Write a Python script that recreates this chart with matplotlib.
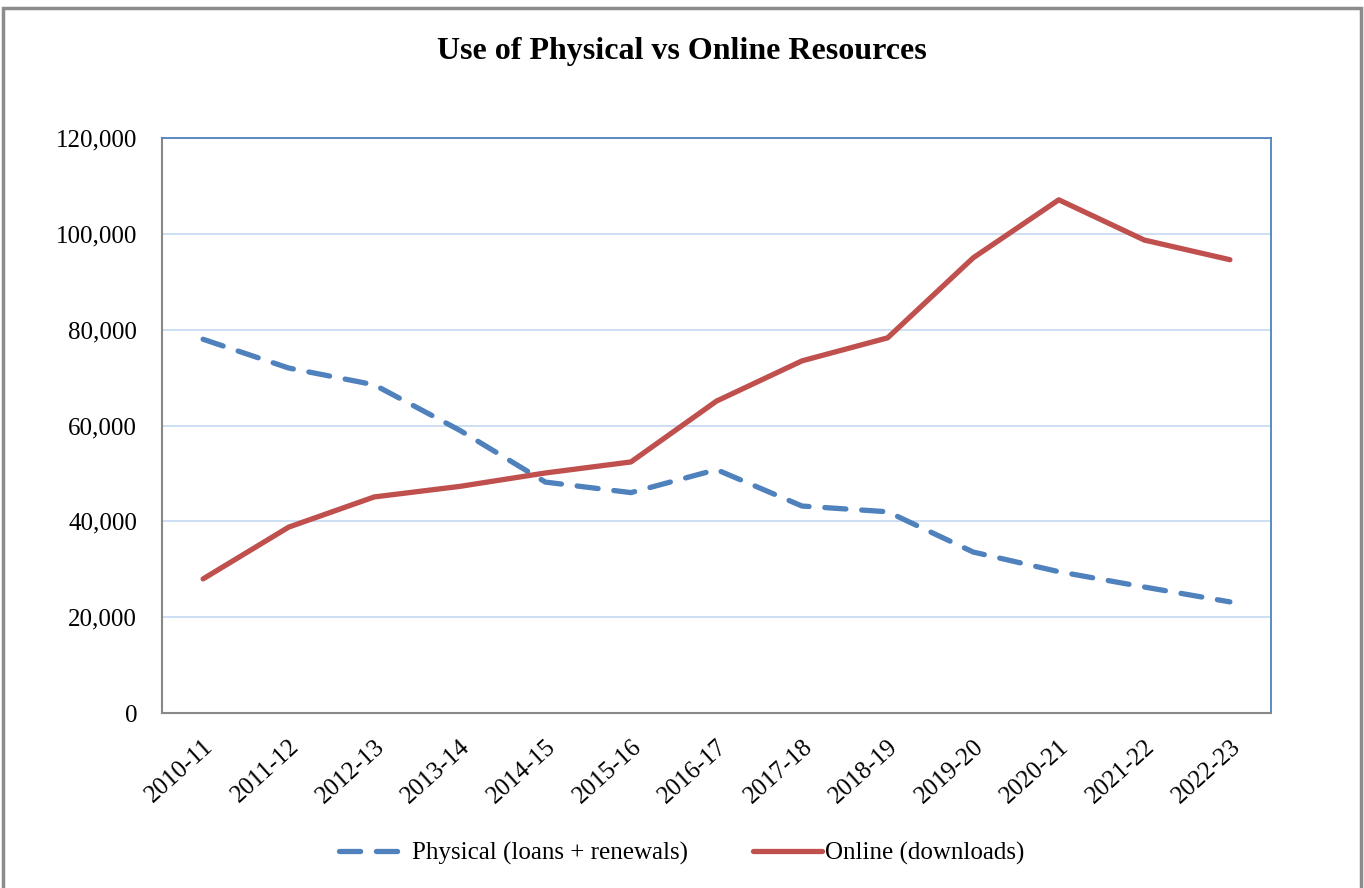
import matplotlib.pyplot as plt
from matplotlib.patches import Rectangle
from matplotlib.ticker import FuncFormatter

years = ["2010-11", "2011-12", "2012-13", "2013-14", "2014-15", "2015-16", "2016-17",
         "2017-18", "2018-19", "2019-20", "2020-21", "2021-22", "2022-23"]
physical = [78000, 72000, 68500, 59000, 48200, 46000, 50800,
            43200, 42000, 33600, 29500, 26300, 23200]
online = [28000, 38800, 45100, 47300, 50100, 52400, 65100,
          73500, 78300, 95000, 107100, 98700, 94600]

blue = "#4F81BD"
red = "#C0504D"
grid_col = "#C6D9F1"

plt.rcParams["font.family"] = ["Liberation Serif", "DejaVu Serif"]

fig = plt.figure(figsize=(13.64, 8.88), dpi=100)
ax = fig.add_axes([0.1188, 0.197, 0.8130, 0.6476])

x = list(range(len(years)))
ax.plot(x, physical, color=blue, lw=3.8, ls=(0, (4, 3)), dash_capstyle="round",
        solid_joinstyle="round", label="Physical (loans + renewals)")
ax.plot(x, online, color=red, lw=3.8, solid_capstyle="round",
        solid_joinstyle="round", label="Online (downloads)")

ax.set_xlim(-0.48, len(years) - 0.52)
ax.set_ylim(0, 120000)
ax.set_yticks(range(0, 120001, 20000))
ax.yaxis.set_major_formatter(FuncFormatter(lambda v, p: f"{int(v):,}"))
ax.set_xticks(x)
ax.set_xticklabels(years, rotation=42, ha="right", rotation_mode="anchor")
ax.tick_params(axis="both", length=0, labelsize=18, colors="black")
ax.tick_params(axis="y", pad=18)
ax.tick_params(axis="x", pad=16)

ax.grid(axis="y", color=grid_col, lw=1.2)
ax.set_axisbelow(True)
for side in ["top", "right"]:
    ax.spines[side].set_color(blue)
    ax.spines[side].set_linewidth(1.3)
for side in ["left", "bottom"]:
    ax.spines[side].set_color("#888888")
    ax.spines[side].set_linewidth(1.5)

fig.text(0.5, 0.942, "Use of Physical vs Online Resources", ha="center", va="center",
         fontsize=23, fontweight="bold")

fig.legend(loc="center", bbox_to_anchor=(0.5, 0.039), ncol=2, frameon=False,
           fontsize=18, handlelength=2.75, columnspacing=2.6, handletextpad=0.15)

# outer chart frame
fig.patches.append(Rectangle((0.002, -0.01), 0.996, 1.001, transform=fig.transFigure,
                             fill=False, edgecolor="#8C8C8C", lw=2.5))

fig.savefig("out.png", dpi=100)
